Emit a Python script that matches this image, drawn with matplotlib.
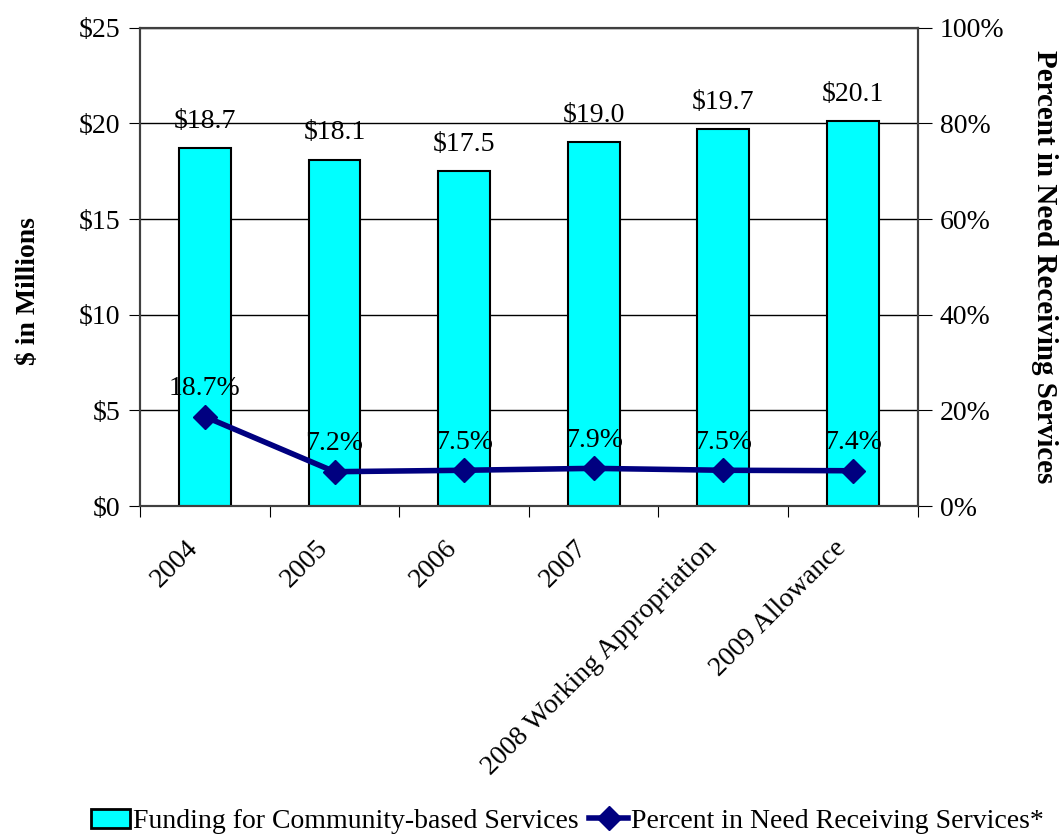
import numpy as np
import matplotlib.pyplot as plt
from matplotlib.ticker import FuncFormatter, MultipleLocator
from matplotlib.lines import Line2D
from matplotlib.patches import Patch

categories = ["2004", "2005", "2006", "2007",
              "2008 Working Appropriation", "2009 Allowance"]
funding = [18.7, 18.1, 17.5, 19.0, 19.7, 20.1]
pct_need = [18.7, 7.2, 7.5, 7.9, 7.5, 7.4]

plt.rcParams['font.family'] = ['Liberation Serif', 'DejaVu Serif']
FS = 20

fig = plt.figure(figsize=(10.62, 8.38), dpi=100)
ax = fig.add_axes([0.132, 0.396, 0.732, 0.571])
x = np.arange(len(categories))

ax.bar(x, funding, width=0.4, color='#00FFFF', edgecolor='black', linewidth=1.5, zorder=3)
for xi, v in zip(x, funding):
    ax.text(xi, v + 0.75, "${:.1f}".format(v), ha='center', va='bottom', fontsize=FS)

ax.set_xlim(-0.5, len(categories) - 0.5)
ax.set_ylim(0, 25)
ax.yaxis.set_major_locator(MultipleLocator(5))
ax.yaxis.set_major_formatter(FuncFormatter(lambda v, p: "${:.0f}".format(v)))
ax.grid(axis='y', color='black', linewidth=1, zorder=0)
ax.set_axisbelow(True)
ax.set_ylabel("$ in Millions", fontsize=FS, fontweight='bold', va='center')
ax.yaxis.set_label_coords(-0.144, 0.45)
ax.tick_params(axis='y', labelsize=FS, direction='out', length=8, pad=6)

# category ticks on boundaries, labels centred under bars
ax.set_xticks(np.arange(len(categories) + 1) - 0.5)
ax.set_xticklabels([])
ax.tick_params(axis='x', direction='out', length=8)
for xi, c in zip(x, categories):
    ax.annotate(c, xy=(xi, 0), xycoords=('data', 'axes fraction'),
                xytext=(-14, -21), textcoords='offset points',
                rotation=45, ha='right', va='top', rotation_mode='anchor',
                fontsize=FS)

ax2 = ax.twinx()
ax2.set_ylim(0, 100)
ax2.yaxis.set_major_locator(MultipleLocator(20))
ax2.yaxis.set_major_formatter(FuncFormatter(lambda v, p: "{:.0f}%".format(v)))
ax2.tick_params(axis='y', labelsize=FS, direction='out', length=10, pad=6)
ax2.plot(x, pct_need, color='#000080', linewidth=4, marker='D', markersize=12, zorder=4)
for xi, v in zip(x, pct_need):
    ax2.text(xi, v + 3.2, "{:.1f}%".format(v), ha='center', va='bottom', fontsize=FS)
ax2.set_ylabel("Percent in Need Receiving Services", fontsize=21, fontweight='bold',
               rotation=270, va='center')
ax2.yaxis.set_label_coords(1.163, 0.5)

for a in (ax, ax2):
    for s in a.spines.values():
        s.set_color('#404040')
        s.set_linewidth(1.5)

handles = [Patch(facecolor='#00FFFF', edgecolor='black', linewidth=2),
           Line2D([0], [0], color='#000080', linewidth=4, marker='D', markersize=12)]
fig.legend(handles, ["Funding for Community-based Services",
                     "Percent in Need Receiving Services*"],
           loc='center left', bbox_to_anchor=(0.062, 0.02), ncol=2, frameon=False,
           fontsize=FS, handlelength=1.4, handletextpad=0.1, columnspacing=0.4)

fig.savefig("out.png", dpi=100)
